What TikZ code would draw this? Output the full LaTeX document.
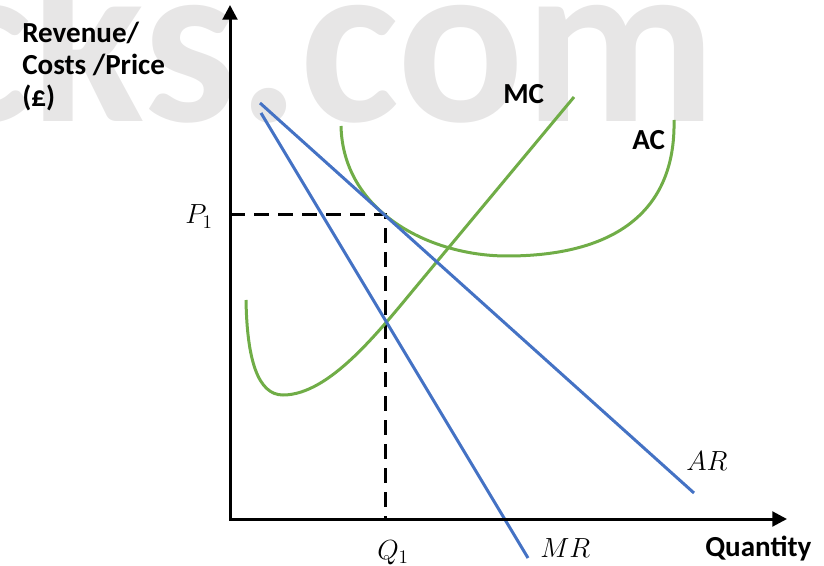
\documentclass[tikz,border=0pt]{standalone}
\usepackage{fontspec}
\setmainfont{Carlito}
\usetikzlibrary{arrows.meta}
\definecolor{curveblue}{HTML}{4472C4}
\definecolor{curvegreen}{HTML}{70AD47}
\definecolor{wmgray}{HTML}{E7E6E6}
\tikzset{
  axisline/.style={line width=2.25pt, line join=miter,
    {Triangle[width=11pt,length=11pt]}-{Triangle[width=11pt,length=11pt]}},
  blueline/.style={curveblue, line width=2.25pt},
  greenline/.style={curvegreen, line width=2.25pt},
  guide/.style={line width=2.25pt, dash pattern=on 11pt off 7pt},
  lab/.style={font=\fontsize{21.8}{24}\selectfont\bfseries, inner sep=0pt},
  mlab/.style={font=\fontsize{19.5}{22}\selectfont, inner sep=0pt},
  wmark/.style={font=\fontsize{177}{177}\selectfont\bfseries, text=wmgray, inner sep=0pt}
}
\begin{document}
\begin{tikzpicture}[x=0.75pt,y=-0.75pt]
\useasboundingbox (0,0) rectangle (824,566);
% watermark
\node[wmark, anchor=base east] (wm) at (717,122) {cks.com};
% coordinates
\coordinate (O) at (230,519);
\coordinate (ytip) at (230,5);
\coordinate (xtip) at (787,519);
\coordinate (E) at (385,215);
\coordinate (P1) at (230,215);
\coordinate (Q1) at (385,519);
\coordinate (arA) at (260,103);
\coordinate (arB) at (694,493);
\coordinate (mrA) at (261,113);
\coordinate (mrB) at (528,558);
\coordinate (mcA) at (246,300);
\coordinate (mcMin) at (283,395);
\coordinate (mcK) at (420,282);
\coordinate (mcB) at (574,97);
\coordinate (acA) at (341,126);
\coordinate (acMin) at (507,256);
\coordinate (acB) at (674,120);
% guides
\draw[guide] (P1) -- (E) -- (Q1);
% curves
\draw[greenline] (acA) .. controls (343,212) and (430,256) .. (acMin)
  .. controls (610,256) and (676,215) .. (acB);
\draw[greenline] (mcA) .. controls (247,360) and (258,395) .. (mcMin)
  .. controls (330,395) and (380,330) .. (mcK) -- (mcB);
\draw[blueline] (arA) -- (arB);
\draw[blueline] (mrA) -- (mrB);
% axes
\draw[axisline] (ytip) -- (O) -- (xtip);
% labels
\node[lab, anchor=base west, align=left] (ylab) at (22,107) {Revenue/\\Costs /Price\\(£)};
\node[lab, anchor=base west] (mclab) at (503,104) {MC};
\node[lab, anchor=base west] (aclab) at (632,150) {AC};
\node[lab, anchor=base west] (xlab) at (705,556) {Quantity};
\node[mlab, anchor=base west] (p1lab) at (185,224) {$P_1$};
\node[mlab, anchor=base west] (q1lab) at (377,559) {$Q_1$};
\node[mlab, anchor=base west] (arlab) at (686,470) {$AR$};
\node[mlab, anchor=base west] (mrlab) at (540,557) {$MR$};
\end{tikzpicture}
\end{document}
